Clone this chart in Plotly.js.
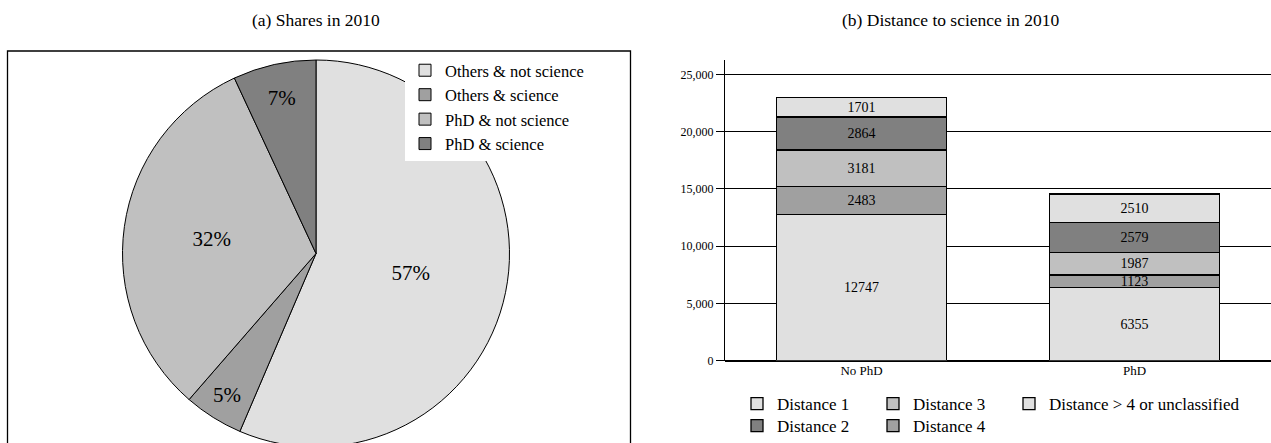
<!DOCTYPE html>
<html>
<head>
<meta charset="utf-8">
<script src="https://cdn.plot.ly/plotly-3.0.1.min.js"></script>
<style>
html, body { margin: 0; padding: 0; overflow: hidden; background: #fff; }
#chart { width: 1271px; height: 447px; }
</style>
</head>
<body>
<div id="chart"></div>
<script>
// ---- Data ----
const pieLabels = ['Others & not science', 'Others & science', 'PhD & not science', 'PhD & science'];
const pieValues = [57, 5, 32, 7];
const pieColors = ['#e0e0e0', '#a0a0a0', '#c0c0c0', '#808080'];

const barCategories = ['No PhD', 'PhD'];
const seriesNames = ['Distance 1', 'Distance 4', 'Distance 3', 'Distance 2', 'Distance > 4 or unclassified'];
const distance1 = [12747, 6355];
const distance4 = [2483, 1123];
const distance3 = [3181, 1987];
const distance2 = [2864, 2579];
const distanceOther = [1701, 2510];
const seriesValues = [distance1, distance4, distance3, distance2, distanceOther];
const seriesColors = ['#e0e0e0', '#a0a0a0', '#c0c0c0', '#808080', '#e0e0e0'];
const seriesLegend = ['legend2', 'legend3', 'legend2', 'legend3', 'legend2'];
const seriesRank = [1, 2, 2, 1, 3];
const seriesLegendWidth = [91, 91, 91, 91, 190];

const W = 1271, H = 447;
const serif = 'Liberation Serif, DejaVu Serif, serif';

const traces = [];
traces.push({
  type: 'pie',
  labels: pieLabels,
  values: pieValues,
  sort: false,
  direction: 'clockwise',
  rotation: 0,
  marker: { colors: pieColors, line: { color: '#000', width: 1 } },
  texttemplate: '%{value}%',
  textposition: 'inside',
  insidetextorientation: 'horizontal',
  textfont: { family: serif, size: 21, color: '#000' },
  domain: { x: [(316 - 194) / W, (316 + 194) / W], y: [0, (H - 60) / H] },
  hoverinfo: 'label+value',
  legend: 'legend'
});

seriesNames.forEach((name, i) => {
  traces.push({
    type: 'bar',
    name: name,
    x: barCategories,
    y: seriesValues[i],
    text: seriesValues[i].map(String),
    textposition: 'inside',
    insidetextanchor: 'middle',
    constraintext: 'none',
    textfont: { family: serif, size: 14, color: '#000' },
    marker: { color: seriesColors[i], line: { color: '#000', width: 1.3 } },
    xaxis: 'x', yaxis: 'y',
    legend: seriesLegend[i],
    legendrank: seriesRank[i],
    legendwidth: seriesLegendWidth[i]
  });
});

const layout = {
  width: W, height: H,
  margin: { l: 0, r: 0, t: 0, b: 0 },
  paper_bgcolor: '#fff', plot_bgcolor: 'rgba(0,0,0,0)',
  barmode: 'stack',
  bargap: 0.375,
  font: { family: serif, color: '#000' },
  xaxis: {
    domain: [725 / W, 1],
    type: 'category',
    range: [-0.5, 1.5],
    showgrid: false, zeroline: false, showline: false,
    ticks: '', tickfont: { family: serif, size: 13, color: '#000' },
    fixedrange: true
  },
  yaxis: {
    domain: [(H - 360.5) / H, (H - 60) / H],
    range: [0, 26270],
    tickvals: [0, 5000, 10000, 15000, 20000, 25000],
    tickformat: ',',
    showgrid: true, gridcolor: '#000', gridwidth: 1,
    showline: true, linecolor: '#000', linewidth: 1,
    zeroline: true, zerolinecolor: '#000', zerolinewidth: 2,
    ticks: 'outside', ticklen: 8, tickcolor: '#000',
    tickfont: { family: serif, size: 12, color: '#000' },
    fixedrange: true
  },
  showlegend: true,
  legend: {
    x: 405 / W, y: (H - 53) / H, xanchor: 'left', yanchor: 'top',
    bgcolor: '#fff', borderwidth: 0,
    font: { family: serif, size: 16.5, color: '#000' },
    tracegroupgap: 0
  },
  legend2: {
    orientation: 'h',
    x: 737 / W, y: (H - 386) / H, xanchor: 'left', yanchor: 'top',
    entrywidth: 91, entrywidthmode: 'pixels',
    bgcolor: 'rgba(0,0,0,0)',
    font: { family: serif, size: 17, color: '#000' },
    traceorder: 'normal'
  },
  legend3: {
    orientation: 'h',
    x: 737 / W, y: (H - 408) / H, xanchor: 'left', yanchor: 'top',
    entrywidth: 91, entrywidthmode: 'pixels',
    bgcolor: 'rgba(0,0,0,0)',
    font: { family: serif, size: 17, color: '#000' },
    traceorder: 'normal'
  },
  annotations: [
    { text: '(a) Shares in 2010', xref: 'paper', yref: 'paper', x: 316 / W, y: (H - 20) / H,
      xanchor: 'center', yanchor: 'middle', showarrow: false,
      font: { family: serif, size: 17.5, color: '#000' } },
    { text: '(b) Distance to science in 2010', xref: 'paper', yref: 'paper', x: 951 / W, y: (H - 20) / H,
      xanchor: 'center', yanchor: 'middle', showarrow: false,
      font: { family: serif, size: 17.5, color: '#000' } }
  ],
  shapes: [
    { type: 'rect', xref: 'paper', yref: 'paper', x0: 7.5 / W, x1: 630.5 / W, y0: -0.1, y1: (H - 51) / H,
      line: { color: '#000', width: 1.3 }, fillcolor: 'rgba(0,0,0,0)', layer: 'below' }
  ]
};

Plotly.newPlot('chart', traces, layout, { displayModeBar: false, responsive: false });
</script>
</body>
</html>
